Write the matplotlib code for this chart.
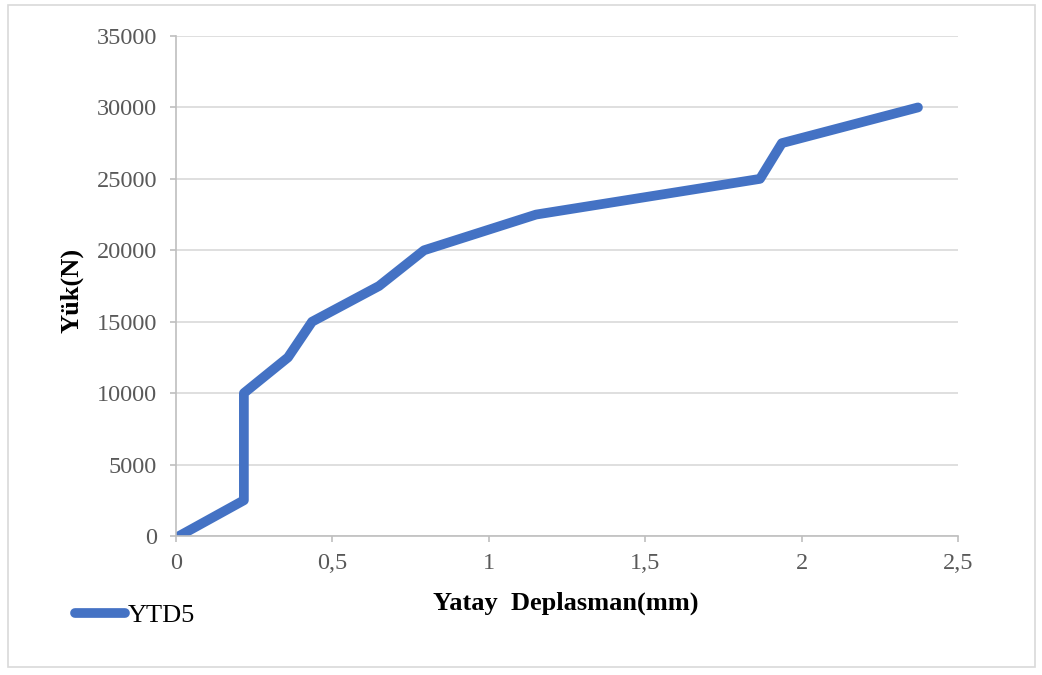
import matplotlib
matplotlib.use("Agg")
import matplotlib.pyplot as plt
from matplotlib.patches import Rectangle

displacement = [0.01, 0.217, 0.217, 0.358, 0.435, 0.649, 0.793, 1.151, 1.867, 1.937, 2.372]
load = [0, 2500, 10000, 12500, 15000, 17500, 20000, 22500, 25000, 27500, 30000]
x_ticks = [0, 0.5, 1, 1.5, 2, 2.5]
x_tick_labels = ["0", "0,5", "1", "1,5", "2", "2,5"]
y_ticks = [0, 5000, 10000, 15000, 20000, 25000, 30000, 35000]
series_name = "YTD5"

plt.rcParams['font.family'] = ['Liberation Serif', 'DejaVu Serif']

fig = plt.figure(figsize=(10.42, 6.75), dpi=100)
ax = fig.add_axes([176/1042, 1 - 536/675, (958-176)/1042, (536-36)/675])

fig.patches.append(Rectangle((8/1042, 1 - 667/675), (1035-8)/1042, (667-5)/675,
                             transform=fig.transFigure, fill=False,
                             edgecolor="#d9d9d9", linewidth=1.2))

line, = ax.plot(displacement, load, color="#4472C4", linewidth=7,
                solid_capstyle="round", solid_joinstyle="round", label=series_name)

ax.set_xlim(0, 2.5)
ax.set_ylim(0, 35000)
ax.set_xticks(x_ticks)
ax.set_xticklabels(x_tick_labels)
ax.set_yticks(y_ticks)
ax.grid(axis="y", color="#d9d9d9", linewidth=1.2)
ax.set_axisbelow(True)
for s in ["top", "right"]:
    ax.spines[s].set_visible(False)
for s in ["left", "bottom"]:
    ax.spines[s].set_color("#bfbfbf")
    ax.spines[s].set_linewidth(1.2)
ax.tick_params(axis="both", colors="#bfbfbf", length=4.5, width=1.2,
               labelsize=17.5, labelcolor="#595959")
ax.tick_params(axis="y", pad=9)
ax.tick_params(axis="x", pad=8)

fig.text(566/1042, 1 - 603/675, "Yatay  Deplasman(mm)", ha="center", va="center",
         fontsize=19, fontweight="bold", color="black")
fig.text(72/1042, 1 - 290/675, "Yük(N)", ha="center", va="center", rotation=90,
         fontsize=19, fontweight="bold", color="black")

leg = fig.legend(handles=[line], loc="center left", bbox_to_anchor=(75/1042, 1 - 615/675),
                 frameon=False, fontsize=19, handlelength=1.9, handletextpad=0.1,
                 borderpad=0, borderaxespad=0)

fig.savefig("out.png", dpi=100)
